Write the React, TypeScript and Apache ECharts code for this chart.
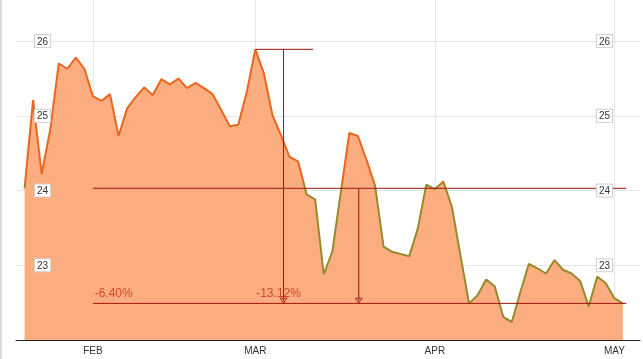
import { useEffect, useRef } from "react";
import * as echarts from "echarts";

// Trading days (category of each point)
const DATES = [
  "2014-01-22", "2014-01-23", "2014-01-24", "2014-01-27", "2014-01-28", "2014-01-29", "2014-01-30", "2014-01-31",
  "2014-02-03", "2014-02-04", "2014-02-05", "2014-02-06", "2014-02-07", "2014-02-10", "2014-02-11", "2014-02-12",
  "2014-02-13", "2014-02-14", "2014-02-18", "2014-02-19", "2014-02-20", "2014-02-21", "2014-02-24", "2014-02-25",
  "2014-02-26", "2014-02-27", "2014-02-28",
  "2014-03-03", "2014-03-04", "2014-03-05", "2014-03-06", "2014-03-07", "2014-03-10", "2014-03-11", "2014-03-12",
  "2014-03-13", "2014-03-14", "2014-03-17", "2014-03-18", "2014-03-19", "2014-03-20", "2014-03-21", "2014-03-24",
  "2014-03-25", "2014-03-26", "2014-03-27", "2014-03-28", "2014-03-31",
  "2014-04-01", "2014-04-02", "2014-04-03", "2014-04-04", "2014-04-07", "2014-04-08", "2014-04-09", "2014-04-10",
  "2014-04-11", "2014-04-14", "2014-04-15", "2014-04-16", "2014-04-17", "2014-04-21", "2014-04-22", "2014-04-23",
  "2014-04-24", "2014-04-25", "2014-04-28", "2014-04-29", "2014-04-30",
  "2014-05-01", "2014-05-02",
];

const PRICES = [
  24.03, 25.21, 24.22, 24.81, 25.7, 25.63, 25.78, 25.63,
  25.26, 25.2, 25.29, 24.73, 25.1, 25.25, 25.38, 25.28, 25.49, 25.42, 25.5, 25.37, 25.44, 25.37, 25.29, 25.08,
  24.86, 24.88, 25.32,
  25.89, 25.57, 25.01, 24.74, 24.45, 24.39, 23.95, 23.88, 22.88, 23.18, 23.98, 24.77, 24.73, 24.41, 24.07, 23.25,
  23.18, 23.15, 23.12, 23.49, 24.08,
  24.02, 24.12, 23.78, 23.13, 22.49, 22.6, 22.81, 22.72, 22.31, 22.24, 22.64, 23.02, 22.96, 22.89, 23.07, 22.94,
  22.89, 22.79, 22.45, 22.85, 22.76,
  22.56, 22.49,
];

const MONTH_NAMES = ["JAN", "FEB", "MAR", "APR", "MAY", "JUN", "JUL", "AUG", "SEP", "OCT", "NOV", "DEC"];
const Y_TICKS = [22, 23, 24, 25, 26];
const DROP_LABELS = ["-6.40%", "-13.12%"];

// annotation anchors, in trading-day index units
const PEAK_LINE_END = 33.75;
const PEAK_DROP_X = 30.3;
const START_DROP_X = 39.1;
const REF_START = 8;
const REF_END = 70.4;
const LABEL_X = [8.2, 27.1];

const FONT = 'Arial, "Liberation Sans", sans-serif';
const ORANGE = "#e8661e";
const OLIVE = "#978a2c";
const PEACH = "#fcad80";
const DARK_RED = "#9e150c";
const LABEL_RED = "#c92a1c";
const ARROW = "path://M6,0L12,10L0,10Z M6,2.6L1.9,8.7L10.1,8.7Z";

const monthOf = (d: string) => Number(d.slice(5, 7)) - 1;

export default function App() {
  const ref = useRef<HTMLDivElement>(null);
  useEffect(() => {
    const chart = echarts.init(ref.current!, null, { renderer: "svg" });
    const yMin = Y_TICKS[0];
    const yMax = 26.55;
    const first = PRICES[0];
    const last = PRICES[PRICES.length - 1];
    const peak = Math.max(...PRICES);
    const peakIdx = PRICES.indexOf(peak);
    const isMonthStart = (i: number) => i > 0 && i < DATES.length && monthOf(DATES[i]) !== monthOf(DATES[i - 1]);
    const arrowLift = 0.035;
    const labelLift = 0.14;
    const gridCats = ["pad-a", ...DATES, "pad-b", "pad-c"];

    const yBase = {
      type: "value",
      min: yMin,
      max: yMax,
      interval: 1,
      axisLine: { show: false },
      axisTick: { show: false },
    };
    const labelStyle = {
      inside: true,
      fontSize: 10,
      fontFamily: FONT,
      color: "#333",
      backgroundColor: "#fff",
      borderColor: "#cfcfcf",
      borderWidth: 1,
      padding: [1, 2, 1, 2],
      lineHeight: 10,
      showMinLabel: false,
      showMaxLabel: false,
    };

    const segment = (pts: number[][]) => ({
      type: "line",
      data: pts,
      xAxisIndex: 0,
      yAxisIndex: 0,
      z: 3,
      silent: true,
      symbol: "none",
      showSymbol: false,
      lineStyle: { color: DARK_RED, width: 1 },
    });

    const option: any = {
      animation: false,
      grid: { left: 16, right: 1, top: 0, bottom: 19, containLabel: false },
      visualMap: {
        type: "piecewise",
        show: false,
        seriesIndex: 0,
        dimension: 1,
        pieces: [
          { min: 20, max: 24.1, color: OLIVE },
          { min: 24.1, max: 30, color: ORANGE },
        ],
      },
      xAxis: [
        {
          type: "value",
          min: -1,
          max: DATES.length + 1,
          interval: 1,
          z: 5,
          axisLine: { show: true, lineStyle: { color: "#222", width: 1 } },
          axisTick: { show: false },
          splitLine: { show: false },
          axisLabel: {
            margin: 5,
            fontSize: 10,
            fontFamily: FONT,
            color: "#333",
            formatter: (v: number) => {
              const i = Math.round(v);
              if (Math.abs(i - v) > 1e-6) return "";
              return isMonthStart(i) ? MONTH_NAMES[monthOf(DATES[i])] : "";
            },
          },
        },
        {
          type: "category",
          data: gridCats,
          boundaryGap: false,
          position: "bottom",
          axisLine: { show: false },
          axisTick: { show: false },
          axisLabel: { show: false },
          splitLine: {
            show: true,
            interval: (idx: number) => isMonthStart(idx - 1),
            lineStyle: { color: "#e6e6e6", width: 1 },
          },
        },
      ],
      yAxis: [
        {
          ...yBase,
          position: "left",
          axisLabel: { show: false },
          splitLine: { show: true, showMinLine: false, showMaxLine: false, lineStyle: { color: "#e6e6e6", width: 1 } },
        },
        {
          ...yBase,
          position: "left",
          z: 10,
          splitLine: { show: false },
          axisLabel: { ...labelStyle, margin: 19 },
        },
        {
          ...yBase,
          position: "right",
          z: 10,
          splitLine: { show: false },
          axisLabel: { ...labelStyle, margin: 28 },
        },
      ],
      graphic: [
        {
          type: "line",
          shape: { x1: 1, y1: 0, x2: 1, y2: 359 },
          style: { stroke: "#dcdcdc", lineWidth: 2 },
          silent: true,
        },
      ],
      series: [
        {
          type: "line",
          name: "price",
          z: 2,
          xAxisIndex: 0,
          yAxisIndex: 0,
          data: PRICES.map((v, i) => [i, v]),
          showSymbol: false,
          symbol: "none",
          lineStyle: { width: 2 },
          areaStyle: { color: PEACH, opacity: 1 },
        },
        segment([[peakIdx, peak], [PEAK_LINE_END, peak]]),
        segment([[PEAK_DROP_X, peak], [PEAK_DROP_X, last + arrowLift]]),
        segment([[REF_START, first], [REF_END, first]]),
        segment([[START_DROP_X, first], [START_DROP_X, last + arrowLift]]),
        segment([[REF_START, last], [REF_END, last]]),
        {
          type: "scatter",
          xAxisIndex: 0,
          yAxisIndex: 0,
          z: 4,
          silent: true,
          symbol: ARROW,
          symbolSize: [8, 6],
          symbolRotate: 180,
          itemStyle: { color: DARK_RED, opacity: 1 },
          data: [
            [PEAK_DROP_X, last + arrowLift],
            [START_DROP_X, last + arrowLift],
          ],
        },
        {
          type: "scatter",
          xAxisIndex: 0,
          yAxisIndex: 0,
          z: 4,
          silent: true,
          symbolSize: 0,
          itemStyle: { color: "rgba(0,0,0,0)" },
          label: {
            show: true,
            position: "right",
            distance: 0,
            color: LABEL_RED,
            fontSize: 12,
            fontFamily: FONT,
            formatter: (p: any) => p.value[2],
          },
          data: [
            [LABEL_X[0], last + labelLift, DROP_LABELS[0]],
            [LABEL_X[1], last + labelLift, DROP_LABELS[1]],
          ],
        },
      ],
    };
    chart.setOption(option);
    return () => chart.dispose();
  }, []);
  return <div ref={ref} style={{ position: "fixed", left: 0, top: 0, width: 643, height: 359 }} />;
}
